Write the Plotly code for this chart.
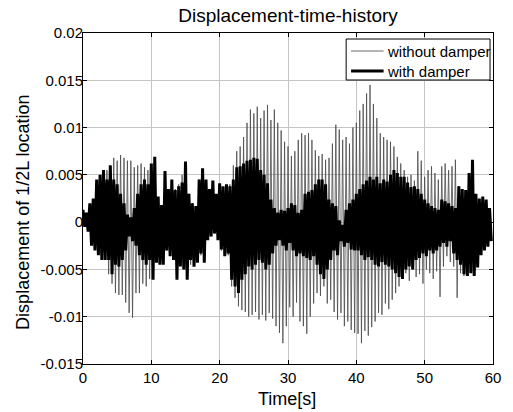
import numpy as np
import plotly.graph_objects as go

# Values in units of 1e-3 (displacement).
# "hi" = upward peaks (at t = 0, 0.5, 1.0, ...), "lo" = troughs (at t = 0.25, 0.75, ...)
without_hi = [
    1.0, 0.8, 1.8, 2.2, 3.5, 4.0, 4.5, 5.5, 6.0, 6.8,
    6.5, 7.1, 6.8, 6.5, 6.5, 5.8, 6.0, 6.2, 5.8, 5.5,
    5.0, 5.5, 2.5, 1.5, 4.5, 3.5, 3.0, 3.5, 4.0, 5.0,
    5.5, 3.0, 2.0, 1.5, 4.5, 4.0, 3.5, 2.5, 2.5, 2.0,
    3.5, 3.5, 3.5, 4.0, 6.0, 7.5, 8.0, 9.0, 10.5, 11.9,
    11.5, 12.2, 11.0, 11.8, 12.4, 10.8, 11.9, 10.5, 9.7, 8.5,
    8.0, 7.0, 7.5, 8.7, 9.4, 9.2, 9.4, 8.7, 7.6, 7.0,
    7.2, 6.6, 6.8, 8.3, 10.3, 9.8, 8.7, 9.0, 8.3, 10.0,
    10.5, 11.8, 12.5, 13.6, 14.5, 12.5, 11.0, 9.4, 9.0, 8.7,
    8.5, 8.0, 6.9, 6.2, 5.5, 4.8, 5.0, 4.4, 7.5, 6.5,
    4.8, 5.5, 5.9, 5.2, 4.5, 5.9, 6.2, 5.5, 5.9, 6.6,
    3.8, 3.2, 2.7, 4.0, 5.0, 2.5, 2.4, 2.2, 1.5, 1.0,
]
without_lo = [
    -0.5, -0.8, -2.2, -2.6, -3.0, -3.5, -4.0, -5.5, -6.5, -7.5,
    -7.7, -7.7, -8.5, -9.6, -10.1, -7.5, -7.5, -6.5, -6.8, -6.0,
    -5.0, -4.0, -4.0, -4.0, -3.0, -3.5, -4.0, -5.5, -4.5, -5.0,
    -5.5, -4.5, -4.0, -4.2, -3.5, -3.8, -1.8, -1.5, -1.2, -1.6,
    -3.0, -3.5, -3.5, -6.8, -8.0, -8.9, -9.3, -9.5, -10.0, -9.8,
    -9.5, -10.3, -9.8, -10.4, -9.6, -10.2, -11.0, -11.7, -12.8, -11.0,
    -9.0, -10.0, -8.5, -10.5, -11.0, -11.8, -10.0, -8.6, -7.5, -7.8,
    -6.8, -8.6, -8.2, -9.5, -10.3, -9.6, -11.0, -10.5, -11.4, -11.7,
    -11.8, -12.8, -11.5, -12.0, -11.1, -10.5, -9.6, -9.8, -8.6, -9.2,
    -8.2, -7.5, -6.8, -6.0, -5.4, -6.2, -5.0, -5.8, -5.5, -6.5,
    -5.0, -5.4, -6.0, -5.2, -7.9, -4.7, -3.6, -4.2, -4.7, -8.0,
    -5.4, -5.7, -5.0, -5.0, -5.2, -4.5, -3.0, -2.8, -2.0, -1.5,
]
with_hi = [
    1.3, 1.0, 2.0, 2.5, 4.5, 5.0, 5.5, 4.5, 6.0, 4.5,
    4.0, 3.0, 2.0, 0.8, 0.5, 1.5, 3.0, 4.0, 4.5, 4.0,
    6.2, 6.9, 2.7, 1.8, 5.4, 3.5, 4.5, 3.4, 3.8, 4.2,
    6.4, 3.0, 2.0, 1.7, 4.5, 5.7, 4.5, 3.5, 4.4, 3.0,
    4.1, 3.8, 4.0, 3.8, 4.5, 5.8, 5.9, 6.2, 6.5, 6.6,
    6.8, 6.7, 5.5, 5.0, 4.1, 2.4, 1.5, 1.0, 1.3, 1.2,
    1.5, 2.0, 1.8, 1.0, 1.3, 3.0, 3.2, 3.4, 4.0, 4.5,
    4.5, 4.0, 2.4, 2.0, 1.7, 0.2, -0.3, 1.3, 2.0, 2.4,
    3.0, 3.5, 4.0, 4.4, 4.8, 4.5, 4.8, 4.1, 4.5, 4.3,
    5.0, 5.5, 5.2, 4.8, 4.8, 4.2, 3.7, 3.8, 3.5, 3.0,
    2.4, 2.0, 1.7, 1.5, 1.3, 2.4, 2.2, 2.0, 1.7, 1.5,
    3.8, 3.5, 3.4, 5.2, 6.6, 3.0, 2.5, 2.7, 2.4, 1.5,
]
with_lo = [
    -0.5, -1.0, -2.5, -3.0, -3.5, -4.0, -4.0, -4.0, -5.5, -4.5,
    -4.7, -4.0, -3.0, -1.5, -2.0, -2.5, -3.5, -4.0, -4.5, -4.0,
    -6.1, -4.3, -4.5, -4.5, -3.0, -3.6, -4.0, -6.1, -4.7, -5.0,
    -6.1, -4.0, -4.7, -4.3, -3.3, -4.3, -1.9, -1.5, -1.2, -1.9,
    -2.9, -3.6, -3.3, -6.1, -6.8, -7.5, -6.1, -5.5, -4.7, -5.0,
    -4.5, -4.0, -4.3, -5.0, -4.5, -3.3, -2.5, -1.9, -2.5, -3.0,
    -2.2, -3.0, -3.6, -3.3, -3.6, -3.8, -4.0, -3.6, -4.5, -5.5,
    -6.0, -5.0, -4.0, -3.0, -3.5, -2.0, -2.6, -2.2, -2.9, -3.0,
    -3.0, -3.5, -4.0, -3.7, -4.0, -4.5, -4.7, -4.2, -4.5, -4.7,
    -5.0, -5.4, -5.8, -6.0, -5.0, -4.7, -5.0, -4.0, -3.8, -3.3,
    -3.6, -3.0, -3.3, -3.0, -2.6, -2.2, -2.6, -2.0, -3.3, -4.0,
    -4.5, -5.5, -5.7, -5.4, -5.7, -4.8, -3.5, -3.0, -2.6, -2.0,
]

y_tick_vals = [0.02, 0.015, 0.01, 0.005, 0, -0.005, -0.01, -0.015]
y_tick_text = ["0.02", "0.015", "0.01", "0.005", "0", "-0.005", "-0.01", "-0.015"]
x_tick_vals = [0, 10, 20, 30, 40, 50, 60]
series_names = ["without damper", "with damper"]
sample_step = 0.25  # seconds between a peak and the following trough
unit = 1e-3


def interleave(hi, lo):
    out = np.empty(len(hi) + len(lo))
    out[0::2] = hi
    out[1::2] = lo
    return out * unit


y_without = interleave(without_hi, without_lo)
y_with = interleave(with_hi, with_lo)
time_s = np.arange(len(y_without)) * sample_step

FONT = "Liberation Sans, Arial, sans-serif"
W, H = 513, 412
L, R, T, B = 83, 14, 33, 48


def px(xpix):
    return (xpix - L) / (W - L - R)


def py(ypix):
    return (H - B - ypix) / (H - T - B)


style_without = dict(color="#4a4a4a", width=0.8)
style_with = dict(color="#000000", width=3)

fig = go.Figure()
fig.add_trace(go.Scatter(x=time_s, y=y_without, mode="lines",
                         name=series_names[0], line=style_without, showlegend=False))
fig.add_trace(go.Scatter(x=time_s, y=y_with, mode="lines",
                         name=series_names[1], line=style_with, showlegend=False))

axis_common = dict(
    showline=True, linecolor="black", linewidth=1, mirror="ticks",
    ticks="inside", ticklen=4, tickcolor="black",
    showgrid=True, gridcolor="#c4c4c4", gridwidth=1,
    zeroline=False, tickfont=dict(family=FONT, size=15, color="black"),
)

shapes = [
    # legend box
    dict(type="rect", xref="paper", yref="paper",
         x0=px(350), x1=px(496), y0=py(80), y1=py(39),
         line=dict(color="black", width=1), fillcolor="white", layer="above"),
    dict(type="line", xref="paper", yref="paper",
         x0=px(355), x1=px(388), y0=py(51), y1=py(51),
         line=dict(color="#6a6a6a", width=1), layer="above"),
    dict(type="line", xref="paper", yref="paper",
         x0=px(355), x1=px(388), y0=py(71), y1=py(71),
         line=dict(color="black", width=3), layer="above"),
]
annotations = [
    dict(text=series_names[0], xref="paper", yref="paper", x=px(389), y=py(51),
         xanchor="left", yanchor="middle", showarrow=False,
         font=dict(family=FONT, size=15, color="black")),
    dict(text=series_names[1], xref="paper", yref="paper", x=px(389), y=py(71),
         xanchor="left", yanchor="middle", showarrow=False,
         font=dict(family=FONT, size=15, color="black")),
    dict(text="Displacement of 1/2L location", xref="paper", yref="paper",
         x=px(22), y=py(212), xanchor="center", yanchor="middle", textangle=-90,
         showarrow=False, font=dict(family=FONT, size=18, color="black")),
    dict(text="Time[s]", xref="paper", yref="paper",
         x=px(290), y=py(399), xanchor="center", yanchor="middle",
         showarrow=False, font=dict(family=FONT, size=18, color="black")),
]

fig.update_layout(
    width=W, height=H,
    margin=dict(l=L, r=R, t=T, b=B),
    paper_bgcolor="white", plot_bgcolor="white",
    font=dict(family=FONT, color="black"),
    title=dict(text="Displacement-time-history", x=0.5, xref="paper",
               y=1 - 15 / H, yref="container", yanchor="middle",
               font=dict(family=FONT, size=19, color="black")),
    xaxis=dict(range=[0, 60], tickvals=x_tick_vals, **axis_common),
    yaxis=dict(range=[-0.015, 0.02], tickvals=y_tick_vals, ticktext=y_tick_text,
               ticklabelstandoff=-4, **axis_common),
    shapes=shapes,
    annotations=annotations,
    showlegend=False,
)

fig.write_html("out.html")
